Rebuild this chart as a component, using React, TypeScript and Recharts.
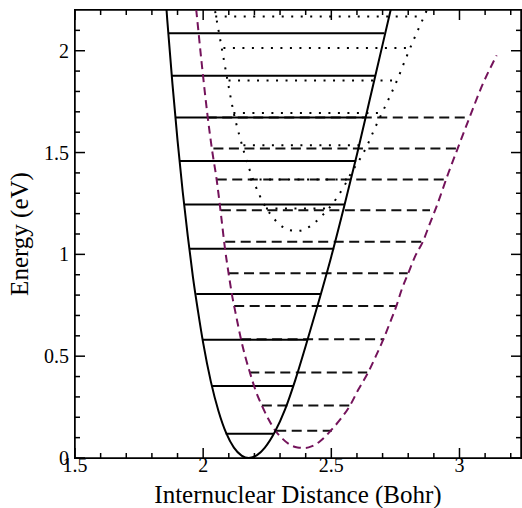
import { LineChart, Line, XAxis, YAxis, Label, ReferenceLine } from "recharts";

const FONT = '"Liberation Serif", "Times New Roman", serif';
const PURPLE = "#74135b";

// plot box edges (also used by the mirrored ticks and the frame)
const PLOT_LEFT = 75;
const PLOT_TOP = 10;
const PLOT_RIGHT = 521;
const PLOT_BOTTOM = 458;

// axis ticks
const xTicks = [1.5, 1.6, 1.7, 1.8, 1.9, 2.0, 2.1, 2.2, 2.3, 2.4, 2.5, 2.6, 2.7, 2.8, 2.9, 3.0, 3.1, 3.2];
const xMajor = [1.5, 2, 2.5, 3];
const xMajorLabels = ["1.5", "2", "2.5", "3"];
const yTicks = [0, 0.1, 0.2, 0.3, 0.4, 0.5, 0.6, 0.7, 0.8, 0.9, 1.0, 1.1, 1.2, 1.3, 1.4, 1.5, 1.6, 1.7, 1.8, 1.9, 2.0, 2.1];
const yMajor = [0, 0.5, 1, 1.5, 2];
const yMajorLabels = ["0", "0.5", "1", "1.5", "2"];

// ground-state well (solid)
const solidX = [1.84, 1.86, 1.88, 1.9, 1.92, 1.94, 1.96, 1.98, 2.0, 2.03, 2.06, 2.09, 2.12, 2.15, 2.178, 2.21, 2.24, 2.28, 2.32, 2.36, 2.4, 2.45, 2.5, 2.55, 2.6, 2.65, 2.7, 2.75];
const solidY = [2.5, 2.15, 1.84, 1.56, 1.31, 1.09, 0.89, 0.72, 0.565, 0.375, 0.23, 0.122, 0.051, 0.012, 0, 0.014, 0.05, 0.129, 0.24, 0.385, 0.55, 0.765, 0.99, 1.235, 1.49, 1.76, 2.03, 2.3];
const solidLevels = [0.119, 0.353, 0.581, 0.805, 1.027, 1.245, 1.459, 1.672, 1.877, 2.086];
const solidLeft = [2.088, 2.035, 1.999, 1.973, 1.946, 1.926, 1.906, 1.89, 1.875, 1.865];
const solidRight = [2.274, 2.354, 2.405, 2.46, 2.511, 2.55, 2.597, 2.634, 2.671, 2.707];

// shifted well (purple dashed)
const purpleX = [1.962, 1.973, 1.995, 2.018, 2.035, 2.053, 2.07, 2.085, 2.1, 2.112, 2.13, 2.148, 2.165, 2.183, 2.205, 2.229, 2.255, 2.281, 2.31, 2.339, 2.368, 2.397, 2.425, 2.456, 2.48, 2.501, 2.534, 2.573, 2.605, 2.644, 2.67, 2.702, 2.728, 2.754, 2.774, 2.8, 2.826, 2.858, 2.884, 2.91, 2.956, 2.995, 3.04, 3.086, 3.145];
const purpleY = [2.33, 2.2, 1.93, 1.672, 1.51, 1.364, 1.19, 1.03, 0.9, 0.805, 0.69, 0.581, 0.495, 0.417, 0.33, 0.258, 0.19, 0.135, 0.094, 0.065, 0.052, 0.049, 0.058, 0.082, 0.11, 0.139, 0.188, 0.258, 0.335, 0.421, 0.49, 0.58, 0.662, 0.747, 0.825, 0.907, 0.988, 1.065, 1.15, 1.233, 1.397, 1.527, 1.675, 1.822, 1.977];
const dashLevels = [0.134, 0.258, 0.42, 0.583, 0.747, 0.907, 1.062, 1.217, 1.368, 1.52, 1.672];
const dashLeft = [2.285, 2.229, 2.18, 2.148, 2.121, 2.099, 2.086, 2.069, 2.053, 2.04, 2.014];
const dashRight = [2.502, 2.57, 2.64, 2.706, 2.752, 2.798, 2.852, 2.885, 2.943, 2.995, 3.04];

// upper well (dotted)
const dotX = [2.04, 2.06, 2.08, 2.1, 2.12, 2.14, 2.16, 2.18, 2.2, 2.22, 2.25, 2.28, 2.31, 2.34, 2.37, 2.4, 2.43, 2.46, 2.49, 2.52, 2.55, 2.58, 2.61, 2.64, 2.67, 2.7, 2.73, 2.76, 2.79, 2.82, 2.85, 2.88];
const dotY = [2.24, 2.1, 1.96, 1.82, 1.69, 1.59, 1.5, 1.42, 1.35, 1.29, 1.22, 1.17, 1.135, 1.118, 1.115, 1.125, 1.15, 1.185, 1.225, 1.275, 1.335, 1.405, 1.465, 1.535, 1.62, 1.7, 1.78, 1.865, 1.96, 2.05, 2.135, 2.22];
const dotLevels = [1.225, 1.368, 1.536, 1.694, 1.854, 2.013, 2.168];
const dotLeft = [2.245, 2.183, 2.157, 2.118, 2.099, 2.079, 2.047];
const dotRight = [2.495, 2.56, 2.631, 2.69, 2.755, 2.809, 2.86];

const curve = (xs: number[], ys: number[]) => xs.map((x, i) => ({ x, y: ys[i] }));
const segs = (ys: number[], l: number[], r: number[]) =>
  ys.map((y, i) => [{ x: l[i], y }, { x: r[i], y }]);

const solidData = curve(solidX, solidY);
const purpleData = curve(purpleX, purpleY);
const dotData = curve(dotX, dotY);
const solidSegs = segs(solidLevels, solidLeft, solidRight);
const dashSegs = segs(dashLevels, dashLeft, dashRight);
const dotSegs = segs(dotLevels, dotLeft, dotRight);

const majorIdx = (v: number, majors: number[]) => majors.findIndex((m) => Math.abs(m - v) < 1e-6);

// inward ticks on the bottom edge, mirrored on the top edge
function BottomTick({ x, y, payload }: any) {
  const i = majorIdx(payload.value, xMajor);
  const len = i >= 0 ? 10 : 5;
  return (
    <g>
      <line x1={x} y1={y} x2={x} y2={y - len} stroke="#000" strokeWidth={1.5} />
      <line x1={x} y1={PLOT_TOP} x2={x} y2={PLOT_TOP + len} stroke="#000" strokeWidth={1.5} />
      {i >= 0 && (
        <text x={x} y={y + 14} textAnchor="middle" fontFamily={FONT} fontSize={20} fill="#000">
          {xMajorLabels[i]}
        </text>
      )}
    </g>
  );
}

// inward ticks on the left edge, mirrored on the right edge
function LeftTick({ x, y, payload }: any) {
  const i = majorIdx(payload.value, yMajor);
  const len = i >= 0 ? 10 : 5;
  return (
    <g>
      <line x1={x} y1={y} x2={x + len} y2={y} stroke="#000" strokeWidth={1.5} />
      <line x1={PLOT_RIGHT} y1={y} x2={PLOT_RIGHT - len} y2={y} stroke="#000" strokeWidth={1.5} />
      {i >= 0 && (
        <text x={x - 6} y={y + 7} textAnchor="end" fontFamily={FONT} fontSize={20} fill="#000">
          {yMajorLabels[i]}
        </text>
      )}
    </g>
  );
}

function YTitle({ viewBox }: any) {
  const cx = 28;
  const cy = viewBox.y + viewBox.height / 2;
  return (
    <text x={cx} y={cy} transform={`rotate(-90 ${cx} ${cy})`} textAnchor="middle"
      fontFamily={FONT} fontSize={25} fill="#000">
      Energy (eV)
    </text>
  );
}

export default function App() {
  return (
    <div style={{ position: "absolute", left: 0, top: 0, width: 522, height: 508 }}>
      <LineChart width={522} height={508} margin={{ top: PLOT_TOP, right: 522 - PLOT_RIGHT, bottom: 0, left: 0 }}>
        <XAxis
          dataKey="x"
          type="number"
          domain={[1.5, 3.24]}
          ticks={xTicks}
          interval={0}
          height={508 - PLOT_BOTTOM}
          tickSize={0}
          tickMargin={0}
          tickLine={false}
          stroke="#000"
          strokeWidth={1.5}
          tick={(p: any) => <BottomTick {...p} />}
          allowDataOverflow
        >
          <Label value="Internuclear Distance (Bohr)" position="insideBottom" offset={5}
            fontSize={25} fontFamily={FONT} fill="#000" />
        </XAxis>
        <YAxis
          type="number"
          domain={[0, 2.2]}
          ticks={yTicks}
          interval={0}
          width={PLOT_LEFT}
          tickSize={0}
          tickMargin={0}
          tickLine={false}
          stroke="#000"
          strokeWidth={1.5}
          tick={(p: any) => <LeftTick {...p} />}
          allowDataOverflow
        >
          <Label content={(p: any) => <YTitle {...p} />} />
        </YAxis>

        <ReferenceLine y={2.2} stroke="#000" strokeWidth={1.5} ifOverflow="visible" />
        <ReferenceLine x={3.24} stroke="#000" strokeWidth={1.5} ifOverflow="visible" />

        {dashSegs.map((d, i) => (
          <Line key={`dash${i}`} data={d} dataKey="y" type="linear" stroke="#111" strokeWidth={2}
            strokeDasharray="10 5.5" dot={false} activeDot={false} isAnimationActive={false} />
        ))}
        {dotSegs.map((d, i) => (
          <Line key={`dot${i}`} data={d} dataKey="y" type="linear" stroke="#000" strokeWidth={2}
            strokeDasharray="2 7.5" dot={false} activeDot={false} isAnimationActive={false} />
        ))}
        {solidSegs.map((d, i) => (
          <Line key={`sol${i}`} data={d} dataKey="y" type="linear" stroke="#000" strokeWidth={2}
            dot={false} activeDot={false} isAnimationActive={false} />
        ))}
        <Line data={dotData} dataKey="y" type="monotone" stroke="#000" strokeWidth={2}
          strokeDasharray="2 7.5" dot={false} activeDot={false} isAnimationActive={false} />
        <Line data={purpleData} dataKey="y" type="monotone" stroke={PURPLE} strokeWidth={2}
          strokeDasharray="8 5" dot={false} activeDot={false} isAnimationActive={false} />
        <Line data={solidData} dataKey="y" type="monotone" stroke="#000" strokeWidth={2}
          dot={false} activeDot={false} isAnimationActive={false} />
      </LineChart>
      {/* frame around the plot box */}
      <div
        style={{
          position: "absolute",
          left: PLOT_LEFT - 0.75,
          top: PLOT_TOP - 0.75,
          width: PLOT_RIGHT - PLOT_LEFT + 1.5,
          height: PLOT_BOTTOM - PLOT_TOP + 1.5,
          border: "1.5px solid #000",
          boxSizing: "border-box",
          pointerEvents: "none",
        }}
      />
    </div>
  );
}
